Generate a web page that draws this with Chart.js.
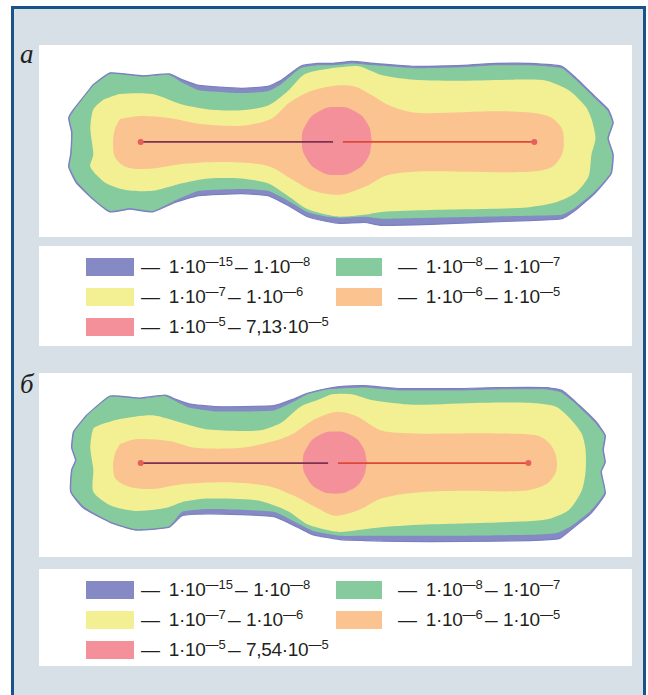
<!DOCTYPE html>
<html>
<head>
<meta charset="utf-8">
<script src="https://cdn.jsdelivr.net/npm/chart.js@4"></script>
<style>
body{margin:0;background:#fff;width:648px;height:695px;overflow:hidden;position:relative;font-family:"Liberation Sans",Arial,sans-serif;color:#231f20}
#frame{position:absolute;left:11px;top:6px;width:629px;height:700px;border:3px solid #1b528a;border-bottom:none;background:#d7e0e7}
.panel{position:absolute;left:39px;width:593px;background:#fff}
.panel canvas{display:block}
.tag{position:absolute;left:20px;font:italic 27px "Liberation Serif",serif;line-height:27px}
.legend{position:absolute;left:39px;width:593px;background:#fff}
.sw{position:absolute;height:18px}
.tx{position:absolute;font-size:19px;line-height:20px;white-space:nowrap;letter-spacing:-0.3px}
.tx sup{font-size:13px;vertical-align:7px;line-height:0;letter-spacing:0}
.tx .d{margin-right:9px}
.tx .m{margin:0 7px 0 3px;display:inline-block;transform:scaleX(1.2)}
</style>
</head>
<body>
<div id="frame"></div>
<div class="tag" style="top:41px">a</div>
<div class="panel" style="top:45px;height:192px"><canvas id="chartA" width="593" height="192"></canvas></div>
<div class="legend" id="legendA" style="top:246px;height:100px"></div>
<div class="tag" style="top:371px">б</div>
<div class="panel" style="top:373px;height:184px"><canvas id="chartB" width="593" height="184"></canvas></div>
<div class="legend" id="legendB" style="top:569px;height:97px"></div>

<script>
// concentration levels (legend order): [from mantissa, from exponent, to mantissa, to exponent]
const levelColors = ["#858ac4", "#86cb9d", "#f3ef93", "#fbc38f", "#f3909a"];
const rangesA = [["1", -15, "1", -8], ["1", -8, "1", -7], ["1", -7, "1", -6], ["1", -6, "1", -5], ["1", -5, "7,13", -5]];
const rangesB = [["1", -15, "1", -8], ["1", -8, "1", -7], ["1", -7, "1", -6], ["1", -6, "1", -5], ["1", -5, "7,54", -5]];

// panel a contours
const aBlue = [[90,82],[107,70],[140,73],[167,71],[180,77],[197,83],[240,86],[267,84],[280,78],[300,63],[317,60],[332,60],[352,58],[375,60],[415,63],[465,62],[499,60],[532,60],[565,63],[579,75],[599,95],[612,108],[617,122],[612,138],[617,155],[615,175],[599,195],[579,213],[565,222],[532,224],[482,226],[432,228],[382,229],[365,226],[340,227],[327,225],[307,220],[287,208],[267,198],[240,196],[197,198],[173,205],[150,215],[127,212],[107,215],[90,202],[73,185],[65,168],[67,155],[68,132],[65,117],[70,108]];
const aGreen = [[90,83],[107,71],[140,74],[167,72],[180,80],[197,88],[240,91],[267,89],[280,82],[300,65],[317,62],[332,62],[352,60],[375,62],[415,65],[465,64],[499,62],[532,62],[565,65],[578,76],[598,96],[611,109],[616,122],[611,138],[616,155],[614,175],[598,194],[578,211],[565,218],[532,219],[482,220],[432,221],[382,222],[365,220],[340,221],[327,220],[307,215],[287,203],[267,193],[240,191],[197,193],[173,203],[150,214],[127,211],[107,214],[90,201],[74,184],[66,168],[68,155],[69,132],[66,117],[71,108]];
const aYellow = [[100,98],[117,92],[150,92],[180,103],[207,108],[240,109],[267,104],[287,89],[303,72],[320,67],[340,64],[359,63],[382,72],[415,77],[465,78],[515,77],[549,78],[572,88],[589,105],[595,118],[599,138],[595,155],[592,178],[579,195],[559,205],[532,210],[482,212],[432,213],[382,215],[365,218],[340,220],[327,218],[307,212],[287,198],[267,185],[240,180],[207,180],[180,185],[150,193],[123,192],[103,185],[87,168],[90,155],[87,128],[90,108]];
const aOrange = [[117,118],[137,115],[167,117],[197,123],[240,125],[270,118],[290,100],[313,88],[337,83],[355,84],[372,93],[390,104],[413,111],[432,112],[499,110],[539,112],[555,117],[565,128],[567,142],[565,155],[555,168],[532,173],[465,173],[415,173],[387,177],[367,188],[340,197],[313,193],[290,180],[267,167],[223,163],[180,165],[147,170],[123,168],[112,158],[110,142],[112,128]];
const aRed = [[372.5,141],[368,123],[355,110],[337,105.5],[319,110],[306,123],[301.5,141],[306,159],[319,172],[337,176.5],[355,172],[368,159]];
const aAxisL = [[138,142],[333,142]];
const aAxisR = [[343,142],[537,142]];

// panel б contours
const bBlue = [[83,413],[107,393],[137,395],[163,392],[173,396],[187,401],[213,404],[273,403],[293,396],[307,390],[327,385],[340,383],[365,382],[399,385],[465,385],[499,384],[549,384],[565,387],[582,402],[599,419],[609,434],[607,449],[609,462],[605,472],[609,495],[595,515],[575,532],[562,542],[532,544],[465,545],[399,545],[365,544],[340,543],[313,538],[297,530],[273,519],[207,516],[180,518],[167,530],[133,533],[107,525],[80,510],[67,493],[68,470],[72,460],[68,447],[70,430]];
const bGreen = [[84,413],[107,394],[137,396],[163,393],[173,398],[187,405],[213,409],[273,408],[293,399],[307,391],[327,386],[340,385],[365,384],[399,387],[465,387],[499,386],[549,386],[564,389],[581,403],[598,420],[608,434],[606,449],[608,462],[604,472],[608,494],[594,513],[574,529],[560,536],[532,538],[465,539],[399,539],[365,539],[340,539],[313,534],[297,526],[273,514],[207,511],[180,514],[167,529],[133,532],[107,524],[81,509],[68,493],[69,470],[73,460],[69,447],[71,430]];
const bYellow = [[97,423],[117,417],[150,413],[180,421],[207,428],[257,429],[280,421],[300,404],[320,396],[332,391],[352,391],[372,397],[415,402],[482,400],[532,400],[559,404],[572,415],[585,432],[589,449],[589,472],[585,492],[572,512],[549,522],[499,525],[432,527],[382,530],[340,535],[327,533],[307,527],[287,513],[257,502],[207,500],[183,503],[163,510],[133,513],[107,507],[90,493],[90,470],[87,447],[90,427]];
const bOrange = [[117,443],[133,438],[167,440],[193,447],[240,447],[273,440],[293,432],[313,418],[332,410],[345,410],[359,415],[382,429],[415,432],[499,432],[539,434],[552,442],[559,455],[559,472],[549,485],[525,492],[465,492],[415,494],[382,500],[359,512],[335,518],[317,510],[293,497],[267,487],[227,483],[180,485],[150,490],[127,488],[113,480],[110,467],[112,453]];
const bRed = [[367.5,462.5],[363,446],[351,434],[335,430],[319,434],[307,446],[302.5,462.5],[307,479],[319,491],[335,495],[351,491],[363,479]];
const bAxisL = [[138,463],[328,463]];
const bAxisR = [[338,463],[531,463]];

function toXY(arr, close) {
  const pts = arr.map(p => ({ x: p[0], y: p[1] }));
  if (close) pts.push(pts[0]);
  return pts;
}

function zone(arr, color, tension, edge) {
  return {
    data: toXY(arr, true),
    showLine: true,
    fill: "shape",
    backgroundColor: color,
    borderColor: edge || color,
    borderWidth: edge ? 1.2 : 0,
    pointRadius: 0,
    tension: tension
  };
}

function axisLine(arr, color, radii) {
  return {
    data: toXY(arr, false),
    showLine: true,
    fill: false,
    borderColor: color,
    borderWidth: 1.8,
    pointRadius: radii,
    pointBackgroundColor: "#e5605a",
    pointBorderWidth: 0
  };
}

function makeChart(id, zones, axL, axR, yMin, yMax) {
  const ctx = document.getElementById(id).getContext("2d");
  // dataset 0 is drawn on top
  const datasets = [
    axisLine(axL, "#7d3050", [3, 0]),
    axisLine(axR, "#dc4a36", [0, 3]),
    zone(zones[4], levelColors[4], 0.5),
    zone(zones[3], levelColors[3], 0.3),
    zone(zones[2], levelColors[2], 0.25),
    zone(zones[1], levelColors[1], 0.15),
    zone(zones[0], levelColors[0], 0.15, "#7a80bd")
  ];
  new Chart(ctx, {
    type: "scatter",
    data: { datasets: datasets },
    options: {
      responsive: false,
      animation: false,
      layout: { padding: 0 },
      plugins: { legend: { display: false }, tooltip: { enabled: false } },
      scales: {
        x: { type: "linear", min: 39, max: 632, display: false },
        y: { type: "linear", min: yMin, max: yMax, reverse: true, display: false }
      }
    }
  });
}

function pow10(m, e) {
  return m + "·10<sup>—" + Math.abs(e) + "</sup>";
}

function renderLegend(id, ranges) {
  const box = document.getElementById(id);
  ranges.forEach((r, i) => {
    const col = i % 2;
    const row = Math.floor(i / 2);
    const sw = document.createElement("div");
    sw.className = "sw";
    sw.style.background = levelColors[i];
    sw.style.left = (col ? 297 : 47) + "px";
    sw.style.width = (col ? 46 : 48) + "px";
    sw.style.top = (12 + row * 30) + "px";
    box.appendChild(sw);
    const tx = document.createElement("div");
    tx.className = "tx";
    tx.style.left = (col ? 359 : 102) + "px";
    tx.style.top = (11 + row * 30) + "px";
    tx.innerHTML = '<span class="d">—</span>' + pow10(r[0], r[1]) + '<span class="m">–</span>' + pow10(r[2], r[3]);
    box.appendChild(tx);
  });
}

makeChart("chartA", [aBlue, aGreen, aYellow, aOrange, aRed], aAxisL, aAxisR, 45, 237);
makeChart("chartB", [bBlue, bGreen, bYellow, bOrange, bRed], bAxisL, bAxisR, 373, 557);
renderLegend("legendA", rangesA);
renderLegend("legendB", rangesB);
</script>
</body>
</html>
